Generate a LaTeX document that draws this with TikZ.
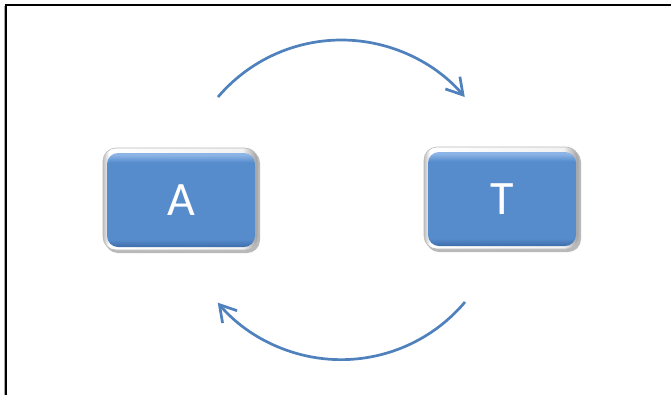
\documentclass[tikz,border=0pt]{standalone}
\usepackage{fontspec}
\setmainfont{Carlito}
\usetikzlibrary{arrows.meta,calc}
\definecolor{arrowblue}{RGB}{79,129,189}
\definecolor{boxblue}{RGB}{86,140,204}
\definecolor{boxtop}{RGB}{140,180,230}
\definecolor{boxbot}{RGB}{62,108,170}
\pgfdeclareverticalshading{boxshade}{100bp}{color(0bp)=(boxbot); color(25bp)=(boxbot); color(29bp)=(boxblue); color(70bp)=(boxblue); color(74bp)=(boxtop); color(100bp)=(boxtop)}
\pgfdeclarehorizontalshading{bezelshade}{100bp}{color(0bp)=(gray!50); color(25bp)=(gray!50); color(27bp)=(white); color(70bp)=(gray!10); color(74bp)=(gray!65); color(75bp)=(gray!75); color(100bp)=(gray!75)}
\tikzset{
  bezel/.style={rounded corners=13pt, shading=bezelshade, draw=gray!55, line width=0.6pt},
  bezelshadow/.style={rounded corners=13pt, fill=gray!55},
  box/.style={rectangle, rounded corners=11pt, minimum width=148pt, minimum height=94pt,
    shading=boxshade, text=white,
    font=\fontsize{48}{48}\selectfont, inner sep=0pt},
  flow/.style={arrowblue, line width=2.7pt,
    -{Straight Barb[length=16pt,width=19pt,line width=2.7pt]}},
  frame/.style={line width=2pt, black}
}
\begin{document}
\begin{tikzpicture}[x=1pt,y=-1pt]
\useasboundingbox (0,0) rectangle (671,394);
\clip (0,0) rectangle (671,394);
\fill[white] (0,0) rectangle (671,394);
% frame
\draw[gray!70, line width=1pt] (4.5,6) -- (4.5,400);
\draw[frame] (6,5) rectangle (700,420);
% positions
\coordinate (ca) at (181,200);
\coordinate (ct) at (502,199);
% bezels
\foreach \c in {ca,ct}{
  \fill[bezelshadow] ($(\c)+(-76,-50)$) rectangle ($(\c)+(79,53)$);
  \path[bezel] ($(\c)+(-78,-52)$) rectangle ($(\c)+(77,50)$);
}
% boxes
\node[box] (A) at (ca) {A};
\node[box] (T) at (ct) {T};
% arrows
\coordinate (t1) at (218,97);
\coordinate (b1) at (465,302);
\draw[flow] (t1) arc[start angle=-139.6, end angle=-40.4, radius=162];
\draw[flow] (b1) arc[start angle=40.1, end angle=139.6, radius=162];
\end{tikzpicture}
\end{document}
